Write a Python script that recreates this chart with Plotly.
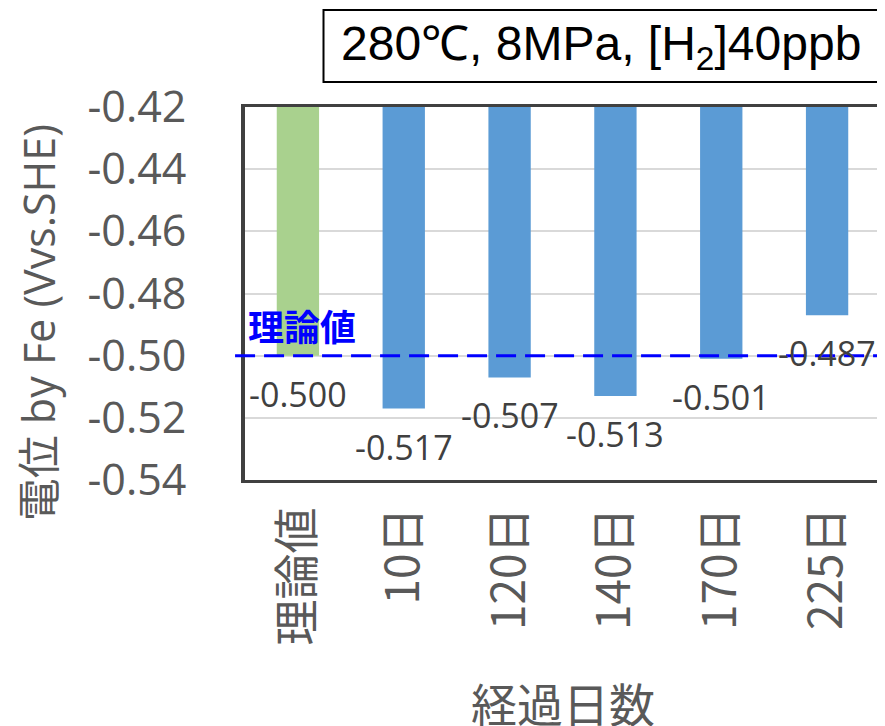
import numpy as np
import plotly.graph_objects as go

categories = ["理論値", "10日", "120日", "140日", "170日", "225日"]
values = [-0.500, -0.517, -0.507, -0.513, -0.501, -0.487]
bar_colors = ["#A9D18E", "#5B9BD5", "#5B9BD5", "#5B9BD5", "#5B9BD5", "#5B9BD5"]
label_texts = ["-0.500", "-0.517", "-0.507", "-0.513", "-0.501", "-0.487"]
theory_value = -0.500
y_top = -0.42
y_bottom = -0.54
y_ticks = [-0.42, -0.44, -0.46, -0.48, -0.50, -0.52, -0.54]
y_tick_text = ["-0.42", "-0.44", "-0.46", "-0.48", "-0.50", "-0.52", "-0.54"]

vals = np.array(values)

# page coordinates of plot area (body has 8px margin)
PL, PR, PT, PB = 245, 884, 107, 480
PW, PH = PR - PL, PB - PT


def px(x):
    return (x - PL) / PW


def py(y):
    return (PB - y) / PH


fig = go.Figure()
fig.add_trace(go.Bar(
    x=categories,
    y=vals - y_top,
    base=y_top,
    marker=dict(color=bar_colors, line=dict(width=0)),
    width=0.4,
    showlegend=False,
    hoverinfo="skip",
))

# theoretical dashed line
fig.add_shape(type="line", xref="paper", yref="y",
              x0=px(235), x1=1.0, y0=theory_value, y1=theory_value,
              line=dict(color="#0000FF", width=3, dash="20px,9px"), layer="above")

fig.add_annotation(xref="paper", yref="y", x=px(246), y=theory_value,
                   xanchor="left", yanchor="bottom", yshift=3,
                   text="<b>理論値</b>", showarrow=False,
                   font=dict(family="Noto Sans CJK JP", size=36, color="#0000FF"))

# data labels
for c, v, t in zip(categories, values, label_texts):
    fig.add_annotation(x=c, y=v, xref="x", yref="y", text=t, showarrow=False,
                       yanchor="middle", yshift=-38,
                       font=dict(family="Open Sans", size=34, color="#404040"))

# title box
fig.add_shape(type="rect", xref="paper", yref="paper",
              x0=px(324), x1=px(900), y0=py(82), y1=py(10),
              line=dict(color="black", width=2), fillcolor="white", layer="above")
fig.add_annotation(xref="paper", yref="paper", x=px(340), y=py(47),
                   xanchor="left", yanchor="middle", showarrow=False,
                   text="280℃, 8MPa, [H<sub>2</sub>]40ppb",
                   font=dict(family="Liberation Sans", size=48, color="black"))

# y axis title
fig.add_annotation(xref="paper", yref="paper", x=px(37), y=py(323),
                   xanchor="center", yanchor="middle", textangle=-90, showarrow=False,
                   text="電位 by Fe (Vvs.SHE)",
                   font=dict(family="Open Sans, Noto Sans CJK JP", size=43, color="#595959"))

# x axis title
fig.add_annotation(xref="paper", yref="paper", x=px(565), y=py(702),
                   xanchor="center", yanchor="middle", showarrow=False,
                   text="経過日数",
                   font=dict(family="Noto Sans CJK JP", size=46, color="#595959"))

fig.update_layout(
    width=877, height=718,
    margin=dict(l=PL - 8, r=1, t=PT - 8, b=718 - (PB - 8)),
    plot_bgcolor="white", paper_bgcolor="white",
    bargap=0.6,
    xaxis=dict(
        type="category",
        tickangle=-90,
        tickfont=dict(family="Noto Sans CJK JP", size=46, color="#595959"),
        showline=True, linecolor="#404040", linewidth=3, mirror=True,
        showgrid=False, ticks="", ticklabelstandoff=6,
    ),
    yaxis=dict(
        range=[y_bottom, y_top],
        tickvals=y_ticks, ticktext=y_tick_text,
        tickfont=dict(family="Open Sans", size=43, color="#595959"),
        showline=True, linecolor="#404040", linewidth=4, mirror=True,
        showgrid=True, gridcolor="#D9D9D9", gridwidth=2,
        zeroline=False, ticks="", ticklabelstandoff=46,
    ),
)

fig.write_html("out.html")
